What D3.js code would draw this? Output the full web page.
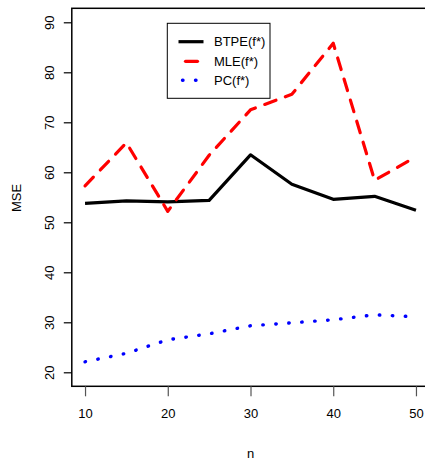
<!DOCTYPE html>
<html>
<head>
<meta charset="utf-8">
<script src="https://cdn.jsdelivr.net/npm/d3@7"></script>
<style>
  body { margin: 0; background: #fff; }
  svg { display: block; font-family: "Liberation Sans", Arial, sans-serif; }
</style>
</head>
<body>
<script>
const nValues = [10, 15, 20, 25, 30, 35, 40, 45, 50];
const btpe = [53.8, 54.3, 54.1, 54.4, 63.5, 57.6, 54.6, 55.2, 52.4];
const mle  = [57.3, 65.9, 52.2, 63.4, 72.5, 75.6, 85.8, 58.4, 63.1];
const pc   = [22.1, 23.8, 26.5, 27.7, 29.3, 29.9, 30.5, 31.5, 31.1];
const xTicks = [10, 20, 30, 40, 50];
const yTicks = [20, 30, 40, 50, 60, 70, 80, 90];
const seriesNames = ["BTPE(f*)", "MLE(f*)", "PC(f*)"];

const W = 425, H = 463;
const svg = d3.select("body").append("svg").attr("width", W).attr("height", H);

const x = d3.scaleLinear().domain([8.4, 51.6]).range([71.8, 429.2]);
const y = d3.scaleLinear().domain([17.2, 92.8]).range([386.3, 8.3]);

// box
svg.append("rect")
  .attr("x", x(8.4)).attr("y", y(92.8))
  .attr("width", x(51.6) - x(8.4)).attr("height", y(17.2) - y(92.8))
  .attr("fill", "none").attr("stroke", "#000").attr("stroke-width", 1.5);

// axes
const xAxis = d3.axisBottom(x).tickValues(xTicks).tickSize(10).tickPadding(12).tickFormat(d3.format("d"));
const gx = svg.append("g").attr("transform", `translate(0,${y(17.2)})`).call(xAxis);
gx.select(".domain").remove();
gx.selectAll("line").attr("stroke", "#555").attr("stroke-width", 1.2);
gx.selectAll("text").attr("font-size", 13).attr("fill", "#000").attr("font-family", "Liberation Sans, Arial, sans-serif");

const yAxis = d3.axisLeft(y).tickValues(yTicks).tickSize(8).tickPadding(0).tickFormat(d3.format("d"));
const gy = svg.append("g").attr("transform", `translate(${x(8.4)},0)`).call(yAxis);
gy.select(".domain").remove();
gy.selectAll("line").attr("stroke", "#000").attr("stroke-width", 1.2);
gy.selectAll("text")
  .attr("font-size", 13).attr("fill", "#000").attr("font-family", "Liberation Sans, Arial, sans-serif")
  .attr("text-anchor", "middle").attr("dy", null).attr("x", null)
  .attr("transform", "translate(-22,0) rotate(-90)")
  .attr("dominant-baseline", "central");

// axis titles
svg.append("text").attr("x", x(30)).attr("y", 458).attr("text-anchor", "middle")
  .attr("font-size", 13).text("n");
svg.append("text").attr("transform", `translate(21,198) rotate(-90)`).attr("text-anchor", "middle")
  .attr("font-size", 13).text("MSE");

const line = d3.line().x(d => x(d[0])).y(d => y(d[1]));
const styles = [
  { data: btpe, color: "#000", dash: null, width: 3.2 },
  { data: mle, color: "#ff0000", dash: "12,10", width: 3.2 },
  { data: pc, color: "#0000ff", dash: "0.5,12.5", width: 3.4 }
];
styles.forEach(s => {
  svg.append("path")
    .datum(nValues.map((n, i) => [n, s.data[i]]))
    .attr("d", line)
    .attr("fill", "none")
    .attr("stroke", s.color)
    .attr("stroke-width", s.width)
    .attr("stroke-linecap", s.dash ? "round" : "butt")
    .attr("stroke-linejoin", "round")
    .attr("stroke-dasharray", s.dash);
});

// legend
const lg = svg.append("g");
lg.append("rect").attr("x", 167.3).attr("y", 23.3).attr("width", 102.7).attr("height", 75)
  .attr("fill", "#fff").attr("stroke", "#000").attr("stroke-width", 1);
const rowsY = [41.7, 61.3, 80.3];
styles.forEach((s, i) => {
  lg.append("line").attr("x1", 178.5).attr("x2", 203.5).attr("y1", rowsY[i]).attr("y2", rowsY[i])
    .attr("stroke", s.color).attr("stroke-width", s.width)
    .attr("stroke-linecap", s.dash ? "round" : "butt")
    .attr("stroke-dasharray", i === 1 ? "12,13" : (i === 2 ? "0.5,12.5" : null))
    .attr("stroke-dashoffset", i === 1 ? -7 : (i === 2 ? -4 : 0));
  lg.append("text").attr("x", 214).attr("y", rowsY[i]).attr("dy", "0.35em")
    .attr("font-size", 13).text(seriesNames[i]);
});
</script>
</body>
</html>
